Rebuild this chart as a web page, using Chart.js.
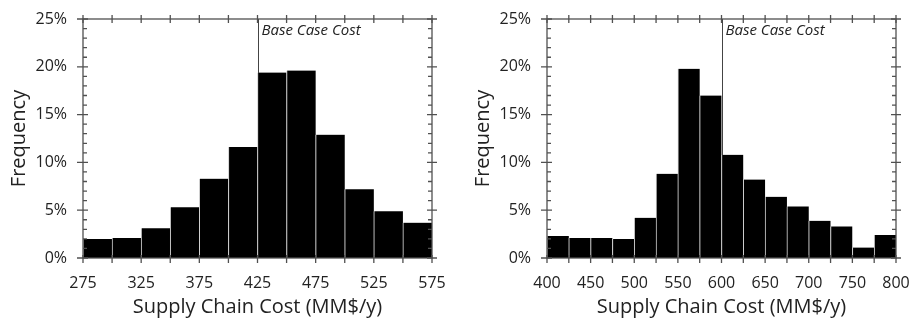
<!DOCTYPE html>
<html>
<head>
<meta charset="utf-8">
<script src="https://cdn.jsdelivr.net/npm/chart.js@4/dist/chart.umd.min.js"></script>
<style>
  html, body { margin: 0; padding: 0; background: #fff; }
  #wrap { position: relative; width: 911px; height: 320px; }
  .box { position: absolute; top: 0; height: 320px; }
  #boxA { left: 0; width: 455px; }
  #boxB { left: 455px; width: 456px; }
</style>
</head>
<body>
<div id="wrap">
  <div class="box" id="boxA"><canvas id="chartA"></canvas></div>
  <div class="box" id="boxB"><canvas id="chartB"></canvas></div>
</div>
<script>
// left histogram: bin starts (MM$/y) and frequency (%)
const binsLeft = [275, 300, 325, 350, 375, 400, 425, 450, 475, 500, 525, 550];
const freqLeft = [2.0, 2.1, 3.1, 5.3, 8.3, 11.6, 19.4, 19.6, 12.9, 7.2, 4.9, 3.7];
const baseLeft = 425;

// right histogram
const binsRight = [400, 425, 450, 475, 500, 525, 550, 575, 600, 625, 650, 675, 700, 725, 750, 775];
const freqRight = [2.3, 2.1, 2.1, 2.0, 4.2, 8.8, 19.8, 17.0, 10.8, 8.2, 6.4, 5.4, 3.9, 3.3, 1.1, 2.4];
const baseRight = 600;

const binWidth = 25;
const yTicks = [0, 5, 10, 15, 20, 25];
const xTitle = 'Supply Chain Cost (MM$/y)';
const yTitle = 'Frequency';
const baseLabel = 'Base Case Cost';

const FONT = '"Open Sans", "Liberation Sans", sans-serif';
const AXIS = '#505050';

// frame, tick marks and the base case marker
const frameTicks = {
  id: 'frameTicks',
  beforeDatasetsDraw(chart, args, opts) {
    const { ctx, chartArea: a, scales: { x } } = chart;
    const px = Math.round(x.getPixelForValue(opts.base)) + 0.5;
    ctx.save();
    ctx.strokeStyle = '#444';
    ctx.lineWidth = 1;
    ctx.beginPath();
    ctx.moveTo(px, a.top);
    ctx.lineTo(px, a.bottom);
    ctx.stroke();
    ctx.font = 'italic 15px ' + FONT;
    ctx.fillStyle = '#222';
    ctx.textBaseline = 'middle';
    ctx.fillText(baseLabel, px + 3, a.top + 12);
    ctx.restore();
  },
  afterDatasetsDraw(chart, args, opts) {
    const { ctx, chartArea: a, scales: { x, y } } = chart;
    ctx.save();
    ctx.strokeStyle = AXIS;
    ctx.lineWidth = 1.3;
    ctx.strokeRect(a.left, a.top, a.right - a.left, a.bottom - a.top);
    ctx.beginPath();
    for (let v = x.min; v <= x.max; v += binWidth) {
      const px = x.getPixelForValue(v);
      ctx.moveTo(px, a.top - 4); ctx.lineTo(px, a.top + 4);
      ctx.moveTo(px, a.bottom - 3); ctx.lineTo(px, a.bottom + 5);
    }
    for (let v = y.min; v <= y.max; v += 1) {
      const py = y.getPixelForValue(v);
      if (v % 5 === 0) {
        ctx.moveTo(a.left - 6, py); ctx.lineTo(a.left + 5, py);
        ctx.moveTo(a.right - 5, py); ctx.lineTo(a.right + 5, py);
      } else {
        ctx.moveTo(a.left, py); ctx.lineTo(a.left + 4, py);
        ctx.moveTo(a.right - 4, py); ctx.lineTo(a.right, py);
      }
    }
    ctx.stroke();
    ctx.restore();
  }
};

function makeHist(id, bins, freq, base, padLeft, padRight) {
  const lo = bins[0];
  const hi = bins[bins.length - 1] + binWidth;
  return new Chart(document.getElementById(id), {
    type: 'bar',
    data: {
      datasets: [{
        data: bins.map((b, i) => ({ x: b + binWidth / 2, y: freq[i] })),
        backgroundColor: '#000',
        borderColor: '#d0d0d0',
        borderWidth: { left: 1, right: 0, top: 0, bottom: 0 },
        borderSkipped: false,
        barPercentage: 1,
        categoryPercentage: 1
      }]
    },
    options: {
      responsive: true,
      maintainAspectRatio: false,
      animation: false,
      layout: { padding: { left: padLeft, right: padRight, top: 19, bottom: 0 } },
      plugins: {
        legend: { display: false },
        tooltip: { enabled: false },
        frameTicks: { base: base }
      },
      scales: {
        x: {
          type: 'linear',
          min: lo,
          max: hi,
          offset: false,
          grid: { display: false, drawTicks: false },
          border: { display: false },
          afterFit: s => {
            s.height = 62;
            s.paddingLeft = 0;
            s.paddingRight = 0;
          },
          afterBuildTicks: s => {
            s.ticks = [];
            for (let v = lo; v <= hi; v += 50) s.ticks.push({ value: v });
          },
          ticks: {
            autoSkip: false,
            maxRotation: 0,
            padding: 16,
            color: '#222',
            font: { family: FONT, size: 16 }
          },
          title: {
            display: true,
            text: xTitle,
            color: '#222',
            padding: { top: 0, bottom: 1 },
            font: { family: FONT, size: 20 }
          }
        },
        y: {
          min: 0,
          max: 25,
          grid: { display: false, drawTicks: false },
          border: { display: false },
          afterFit: s => {
            s.width = 83;
            s.paddingTop = 0;
            s.paddingBottom = 0;
          },
          afterBuildTicks: s => { s.ticks = yTicks.map(v => ({ value: v })); },
          ticks: {
            padding: 16,
            color: '#222',
            font: { family: FONT, size: 16 },
            callback: v => v + '%'
          },
          title: {
            display: true,
            text: yTitle,
            color: '#222',
            padding: { top: 7, bottom: 0 },
            font: { family: FONT, size: 20 }
          }
        }
      }
    },
    plugins: [frameTicks]
  });
}

makeHist('chartA', binsLeft, freqLeft, baseLeft, 0, 23);
makeHist('chartB', binsRight, freqRight, baseRight, 9, 15);
</script>
</body>
</html>
